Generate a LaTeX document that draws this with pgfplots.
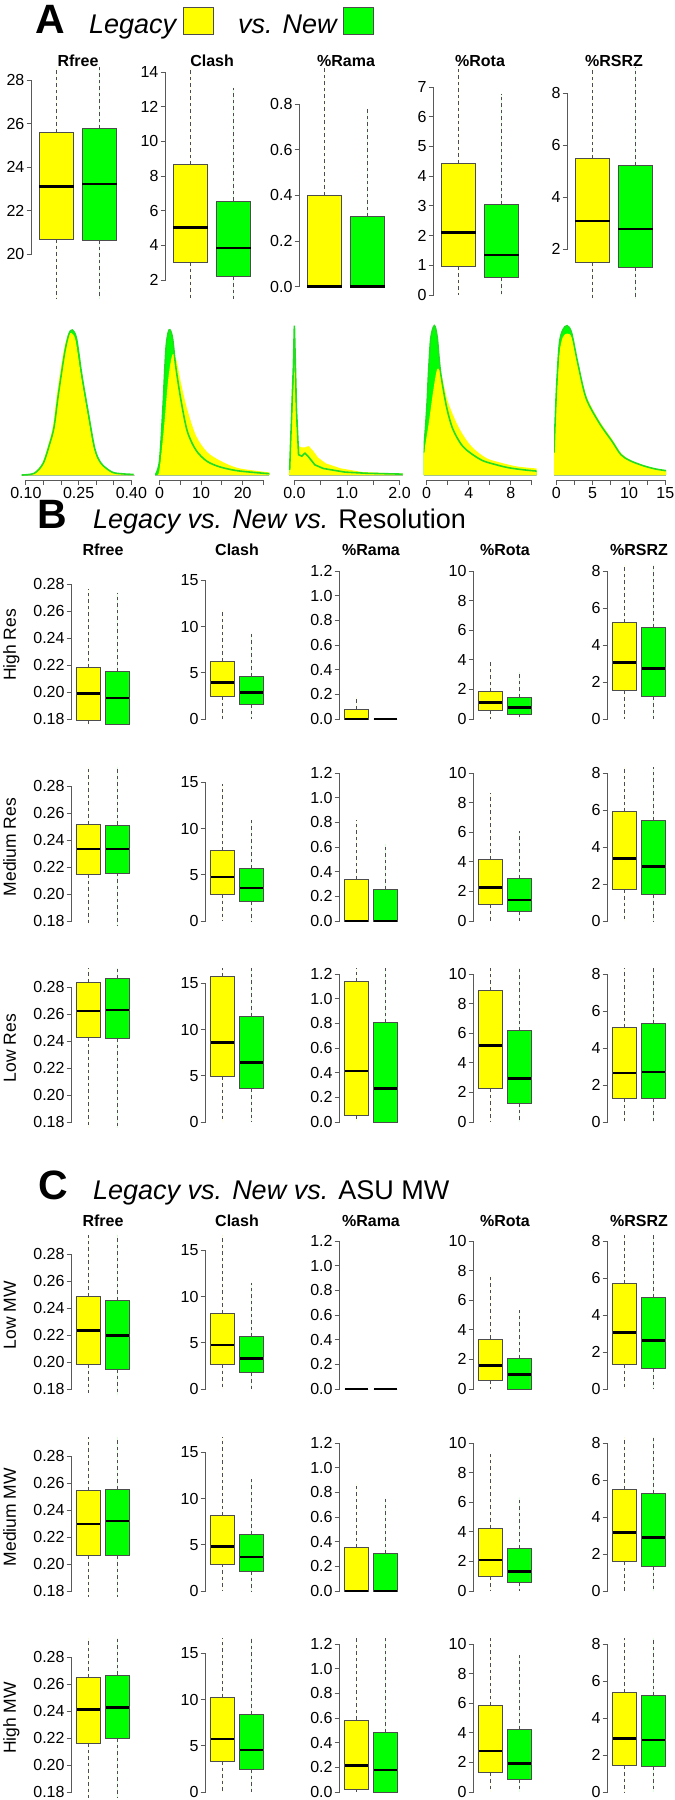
\documentclass[border=0pt]{standalone}
\usepackage{fontspec}
\setmainfont{Liberation Sans}
\usepackage{pgfplots}
\pgfplotsset{compat=1.18}
\usepgfplotslibrary{statistics}

\definecolor{yel}{HTML}{FFFF00}
\definecolor{grn}{HTML}{00FF00}
\definecolor{grnline}{HTML}{22DD22}
\definecolor{bord}{HTML}{4D4D4D}
\definecolor{axcol}{HTML}{595959}

\newcommand{\tickfont}{\fontsize{16}{18}\selectfont}
\newcommand{\titfont}{\fontsize{16}{18}\selectfont\bfseries}

\pgfplotsset{
  bpbase/.style={scale only axis, anchor=south west,
    xmin=0.42, xmax=2.58, xtick=\empty, clip mode=individual,
    axis line style={draw=none}, ytick pos=left, tick align=outside,
    major tick length=5pt, tick style={draw=axcol, line width=0.8pt},
    yticklabel style={font=\tickfont, inner sep=2pt},
    boxplot/draw direction=y,
    boxplot/whisker extend=0,
    boxplot/every whisker/.style={draw=bord, line width=0.8pt, dash pattern=on 3.5pt off 3pt},
    boxplot/every median/.style={draw=black, line width=2.6pt},
    boxplot/every box/.style={draw=bord, line width=0.9pt}},
  szA/.style={width=92.9pt, height=231pt},
  szB/.style={width=62.6pt, height=159.8pt},
  bxY/.style args={#1/#2/#3/#4/#5}{fill=yel, draw=bord,
    boxplot prepared={draw position=1, lower whisker=#1, lower quartile=#2,
      median=#3, upper quartile=#4, upper whisker=#5}},
  bxG/.style args={#1/#2/#3/#4/#5}{fill=grn, draw=bord,
    boxplot prepared={draw position=2, lower whisker=#1, lower quartile=#2,
      median=#3, upper quartile=#4, upper whisker=#5}},
  % panel A scales
  aRfree/.style={ymin=17.977, ymax=28.598, ytick={20,22,24,26,28}, yticklabels={20,22,24,26,28}},
  aClash/.style={ymin=0.9615, ymax=14.288, ytick={2,4,6,8,10,12,14}, yticklabels={2,4,6,8,10,12,14}},
  aRama/.style={ymin=-0.05, ymax=0.9637, ytick={0,0.2,0.4,0.6,0.8}, yticklabels={0.0,0.2,0.4,0.6,0.8}},
  aRota/.style={ymin=-0.101, ymax=7.673, ytick={0,1,2,3,4,5,6,7}, yticklabels={0,1,2,3,4,5,6,7}},
  aRSRZ/.style={ymin=0.1154, ymax=9.0, ytick={2,4,6,8}, yticklabels={2,4,6,8}},
  % panels B and C scales
  mRfree/.style={ymin=0.1756, ymax=0.2944, ytick={0.18,0.20,0.22,0.24,0.26,0.28}, yticklabels={0.18,0.20,0.22,0.24,0.26,0.28}},
  mClash/.style={ymin=-0.64, ymax=16.64, ytick={0,5,10,15}, yticklabels={0,5,10,15}},
  mRama/.style={ymin=-0.048, ymax=1.248, ytick={0,0.2,0.4,0.6,0.8,1.0,1.2}, yticklabels={0.0,0.2,0.4,0.6,0.8,1.0,1.2}},
  mRota/.style={ymin=-0.4, ymax=10.4, ytick={0,2,4,6,8,10}, yticklabels={0,2,4,6,8,10}},
  mRSRZ/.style={ymin=-0.32, ymax=8.32, ytick={0,2,4,6,8}, yticklabels={0,2,4,6,8}},
  dens/.style={scale only axis, anchor=south west, height=160pt,
    ymin=-0.0345, ymax=1.069, ytick=\empty,
    axis line style={draw=none}, xtick pos=bottom, tick align=outside,
    major tick length=5pt, tick style={draw=axcol, line width=0.8pt},
    xticklabel style={font=\tickfont, inner sep=2pt}},
  dfillG/.style={fill=grn, draw=none},
  dfillY/.style={fill=yel, draw=none},
  dline/.style={draw=grnline, line width=1.6pt},
}

% left, bottom, size, scale, axis line from, axis line to, legacy stats, new stats
\newcommand{\bp}[8]{%
\begin{axis}[bpbase,#3,#4,at={(#1pt,-#2pt)}]
\draw[axcol,line width=0.8pt] (axis cs:0.42,#5) -- (axis cs:0.42,#6);
\addplot[bxY=#7] coordinates {};
\addplot[bxG=#8] coordinates {};
\end{axis}}

\begin{document}
\begin{tikzpicture}
\useasboundingbox (0,0) rectangle (675pt,-1800pt);

% ---------- headers ----------
\node[anchor=base west, inner sep=0, font=\fontsize{41}{41}\selectfont\bfseries] at (35pt,-33pt) {A};
\node[anchor=base west, inner sep=0, font=\fontsize{27}{27}\selectfont\itshape] at (89pt,-33pt) {Legacy};
\draw[fill=yel, draw=bord, line width=0.8pt] (183pt,-7pt) rectangle (213pt,-34pt);
\node[anchor=base west, inner sep=0, font=\fontsize{27}{27}\selectfont\itshape] at (238pt,-33pt) {vs. New};
\draw[fill=grn, draw=bord, line width=0.8pt] (343pt,-7pt) rectangle (373pt,-34pt);

\node[anchor=base west, inner sep=0, font=\fontsize{41}{41}\selectfont\bfseries] at (37pt,-528pt) {B};
\node[anchor=base west, inner sep=0, font=\fontsize{27}{27}\selectfont] at (93pt,-528pt) {\textit{Legacy vs. New vs.} Resolution};
\node[anchor=base west, inner sep=0, font=\fontsize{41}{41}\selectfont\bfseries] at (38pt,-1199pt) {C};
\node[anchor=base west, inner sep=0, font=\fontsize{27}{27}\selectfont] at (93pt,-1199pt) {\textit{Legacy vs. New vs.} ASU MW};

% ---------- column titles ----------
\foreach \x/\t in {78.05/Rfree, 212.05/Clash, 346.05/\%Rama, 480.05/\%Rota, 614.05/\%RSRZ}
  \node[font=\titfont, inner sep=0] at (\x pt,-61pt) {\t};
\foreach \x/\t in {103/Rfree, 237/Clash, 371/\%Rama, 505/\%Rota, 639/\%RSRZ}{
  \node[font=\titfont, inner sep=0] at (\x pt,-550pt) {\t};
  \node[font=\titfont, inner sep=0] at (\x pt,-1221pt) {\t};
}

% ---------- row labels ----------
\foreach \y/\t in {645/High Res, 847/Medium Res, 1048/Low Res, 1315/Low MW, 1517/Medium MW, 1718/High MW}
  \node[rotate=90, anchor=base, inner sep=0, font=\fontsize{17.5}{18}\selectfont] at (16pt,-\y pt) {\t};

% ---------- panel A boxplots ----------
\bp{31.6}{298}{szA}{aRfree}{20}{28}{17/20.68/23.1/25.6/30}{17/20.64/23.22/25.75/30}
\bp{165.6}{298}{szA}{aClash}{2}{14}{0/3.03/5.02/8.66/20}{0/2.18/3.84/6.56/13.1}
\bp{299.6}{298}{szA}{aRama}{0}{0.8}{0/0/0/0.4/1.2}{0/0/0/0.307/0.78}
\bp{433.6}{298}{szA}{aRota}{0}{7}{0/0.95/2.1/4.44/9}{0/0.58/1.35/3.05/6.77}
\bp{567.6}{298}{szA}{aRSRZ}{2}{8}{0/1.5/3.08/5.5/10}{0/1.3/2.77/5.23/10}

% ---------- panel A densities ----------
\begin{axis}[dens, at={(21.5pt,-480pt)}, width=113pt, xmin=0.0875, xmax=0.4088,
  xtick={0.10,0.15,0.20,0.25,0.30,0.35,0.40}, xticklabels={0.10,,,0.25,,,0.40}]
\draw[axcol,line width=0.8pt] (axis cs:0.10,-0.0345) -- (axis cs:0.40,-0.0345);
\draw[gray!60, line width=0.6pt] (axis cs:0.0875,0) -- (axis cs:0.4088,0);
\addplot[dfillG, smooth, tension=0.5] coordinates {(0.088,0) (0.124,0.012) (0.149,0.08) (0.167,0.21) (0.180,0.33) (0.192,0.55) (0.210,0.84) (0.222,0.97) (0.232,1.0) (0.244,0.94) (0.259,0.69) (0.278,0.42) (0.296,0.18) (0.314,0.08) (0.345,0.02) (0.375,0.008) (0.406,0.004)} \closedcycle;
\addplot[dfillY, smooth, tension=0.5] coordinates {(0.088,0) (0.121,0.012) (0.146,0.08) (0.164,0.21) (0.177,0.34) (0.189,0.57) (0.207,0.85) (0.219,0.96) (0.229,0.98) (0.241,0.93) (0.256,0.70) (0.275,0.43) (0.293,0.19) (0.311,0.085) (0.342,0.022) (0.375,0.008) (0.406,0.004)} \closedcycle;
\addplot[dline, smooth, tension=0.5] coordinates {(0.088,0) (0.124,0.012) (0.149,0.08) (0.167,0.21) (0.180,0.33) (0.192,0.55) (0.210,0.84) (0.222,0.97) (0.232,1.0) (0.244,0.94) (0.259,0.69) (0.278,0.42) (0.296,0.18) (0.314,0.08) (0.345,0.02) (0.375,0.008) (0.406,0.004)};
\end{axis}

\begin{axis}[dens, at={(155pt,-480pt)}, width=114.4pt, xmin=-1.08, xmax=26.42,
  xtick={0,5,10,15,20,25}, xticklabels={0,,10,,20,}]
\draw[axcol,line width=0.8pt] (axis cs:0,-0.0345) -- (axis cs:25,-0.0345);
\draw[gray!60, line width=0.6pt] (axis cs:-1.08,0) -- (axis cs:26.42,0);
\addplot[dfillG, smooth, tension=0.5] coordinates {(-1.0,0) (0,0.095) (0.8,0.45) (1.55,0.87) (2.3,1.0) (3.1,0.95) (3.9,0.75) (5.2,0.51) (6.7,0.30) (8.8,0.17) (11.4,0.095) (14.5,0.056) (18.6,0.03) (23.8,0.015) (26.4,0.009)} \closedcycle;
\addplot[dfillY, smooth, tension=0.5] coordinates {(-0.5,0) (0,0.036) (1.0,0.30) (2.1,0.66) (3.1,0.83) (4.1,0.79) (5.2,0.63) (6.7,0.45) (8.8,0.27) (11.4,0.16) (14.5,0.10) (18.6,0.05) (23.8,0.027) (26.4,0.018)} \closedcycle;
\addplot[dline, smooth, tension=0.5] coordinates {(-1.0,0) (0,0.095) (0.8,0.45) (1.55,0.87) (2.3,1.0) (3.1,0.95) (3.9,0.75) (5.2,0.51) (6.7,0.30) (8.8,0.17) (11.4,0.095) (14.5,0.056) (18.6,0.03) (23.8,0.015) (26.4,0.009)};
\end{axis}

\begin{axis}[dens, at={(288.8pt,-480pt)}, width=114.2pt, xmin=-0.106, xmax=2.065,
  xtick={0,0.5,1,1.5,2}, xticklabels={0.0,,1.0,,2.0}]
\draw[axcol,line width=0.8pt] (axis cs:0,-0.0345) -- (axis cs:2,-0.0345);
\draw[gray!60, line width=0.6pt] (axis cs:-0.106,0) -- (axis cs:2.065,0);
\addplot[dfillG] coordinates {(-0.106,0) (-0.09,0.036) (-0.02,0.74) (0.0,1.03) (0.04,0.45) (0.08,0.14) (0.14,0.13) (0.2,0.15) (0.27,0.125) (0.39,0.07) (0.55,0.045) (0.96,0.02) (1.37,0.012) (2.06,0.006)} \closedcycle;
\addplot[dfillY] coordinates {(-0.106,0) (-0.09,0.03) (-0.02,0.6) (0.0,0.78) (0.04,0.35) (0.08,0.2) (0.14,0.19) (0.2,0.19) (0.27,0.2) (0.35,0.17) (0.45,0.12) (0.6,0.08) (0.88,0.046) (1.3,0.02) (2.06,0.009)} \closedcycle;
\addplot[dline] coordinates {(-0.09,0.036) (-0.02,0.74) (0.0,1.03) (0.04,0.45) (0.08,0.14) (0.14,0.13) (0.2,0.15) (0.27,0.125) (0.39,0.07) (0.55,0.045) (0.96,0.02) (1.37,0.012) (2.06,0.006)};
\end{axis}

\begin{axis}[dens, at={(423.7pt,-480pt)}, width=112.9pt, xmin=-0.285, xmax=10.46,
  xtick={0,2,4,6,8,10}, xticklabels={0,,4,,8,}]
\draw[axcol,line width=0.8pt] (axis cs:0,-0.0345) -- (axis cs:10,-0.0345);
\draw[gray!60, line width=0.6pt] (axis cs:-0.285,0) -- (axis cs:10.46,0);
\addplot[dfillG, smooth, tension=0.5] coordinates {(-0.29,0.154) (0,0.45) (0.2,0.74) (0.4,0.95) (0.73,1.03) (1.0,0.95) (1.3,0.72) (1.86,0.48) (2.47,0.32) (3.3,0.21) (4.1,0.155) (5.3,0.10) (6.6,0.071) (7.8,0.05) (9.2,0.036) (10.46,0.027)} \closedcycle;
\addplot[dfillY, smooth, tension=0.5] coordinates {(-0.29,0.14) (0.2,0.36) (0.6,0.57) (1.0,0.73) (1.4,0.69) (2.0,0.51) (2.9,0.35) (3.7,0.25) (4.5,0.18) (5.7,0.116) (7.0,0.086) (8.6,0.059) (10.46,0.045)} \closedcycle;
\addplot[dline, smooth, tension=0.5] coordinates {(-0.29,0.154) (0,0.45) (0.2,0.74) (0.4,0.95) (0.73,1.03) (1.0,0.95) (1.3,0.72) (1.86,0.48) (2.47,0.32) (3.3,0.21) (4.1,0.155) (5.3,0.10) (6.6,0.071) (7.8,0.05) (9.2,0.036) (10.46,0.027)};
\end{axis}

\begin{axis}[dens, at={(554pt,-480pt)}, width=112pt, xmin=-0.32, xmax=15.09,
  xtick={0,2.5,5,7.5,10,12.5,15}, xticklabels={0,,5,,10,,15}]
\draw[axcol,line width=0.8pt] (axis cs:0,-0.0345) -- (axis cs:15,-0.0345);
\draw[gray!60, line width=0.6pt] (axis cs:-0.32,0) -- (axis cs:15.09,0);
\addplot[dfillG, smooth, tension=0.5] coordinates {(-0.32,0.154) (0,0.57) (0.41,0.90) (0.89,1.0) (1.48,1.03) (2.1,0.98) (2.96,0.77) (4.1,0.53) (5.9,0.36) (7.7,0.23) (8.9,0.14) (10.1,0.10) (11.9,0.065) (13.6,0.042) (15.09,0.03)} \closedcycle;
\addplot[dfillY, smooth, tension=0.5] coordinates {(-0.32,0.14) (0,0.5) (0.41,0.83) (0.89,0.95) (1.48,0.975) (2.1,0.95) (2.96,0.78) (4.1,0.55) (5.9,0.375) (7.7,0.245) (8.9,0.15) (10.1,0.105) (11.9,0.068) (13.6,0.045) (15.09,0.032)} \closedcycle;
\addplot[dline, smooth, tension=0.5] coordinates {(-0.32,0.154) (0,0.57) (0.41,0.90) (0.89,1.0) (1.48,1.03) (2.1,0.98) (2.96,0.77) (4.1,0.53) (5.9,0.36) (7.7,0.23) (8.9,0.14) (10.1,0.10) (11.9,0.065) (13.6,0.042) (15.09,0.03)};
\end{axis}

% ---------- panel B: High Res ----------
\bp{71.7}{724.9}{szB}{mRfree}{0.18}{0.28}{0.17/0.179/0.1988/0.218/0.277}{0.17/0.1762/0.1955/0.2151/0.274}
\bp{205.7}{724.9}{szB}{mClash}{0}{15}{0/2.48/3.96/6.26/11.83}{0/1.58/2.88/4.64/9.24}
\bp{339.7}{724.9}{szB}{mRama}{0}{1.2}{0/0/0/0.079/0.18}{0/0/0/0/0}
\bp{473.7}{724.9}{szB}{mRota}{0}{10}{0/0.56/1.13/1.84/3.87}{0/0.34/0.79/1.47/3.16}
\bp{607.7}{724.9}{szB}{mRSRZ}{0}{8}{0/1.53/3.04/5.2/11}{0/1.2/2.74/4.93/11}
% ---------- panel B: Medium Res ----------
\bp{71.7}{926.9}{szB}{mRfree}{0.18}{0.28}{0.178/0.2147/0.2334/0.2521/0.31}{0.176/0.2157/0.2334/0.2514/0.31}
\bp{205.7}{926.9}{szB}{mClash}{0}{15}{0/2.9/4.76/7.59/14.8}{0/2.15/3.58/5.66/10.9}
\bp{339.7}{926.9}{szB}{mRama}{0}{1.2}{0/0/0/0.338/0.82}{0/0/0/0.258/0.626}
\bp{473.7}{926.9}{szB}{mRota}{0}{10}{0/1.14/2.28/4.16/8.68}{0/0.67/1.41/2.86/6.1}
\bp{607.7}{926.9}{szB}{mRSRZ}{0}{8}{0/1.7/3.39/5.91/11}{0/1.41/2.96/5.43/11}
% ---------- panel B: Low Res ----------
\bp{71.7}{1127.9}{szB}{mRfree}{0.18}{0.28}{0.17/0.243/0.2625/0.2839/0.32}{0.17/0.2422/0.2633/0.2866/0.32}
\bp{205.7}{1127.9}{szB}{mClash}{0}{15}{0/4.9/8.57/15.7/30}{0/3.6/6.41/11.46/22}
\bp{339.7}{1127.9}{szB}{mRama}{0}{1.2}{0/0.051/0.414/1.138/2}{0/0/0.273/0.805/1.6}
\bp{473.7}{1127.9}{szB}{mRota}{0}{10}{0/2.28/5.16/8.92/17}{0/1.26/2.95/6.17/13}
\bp{607.7}{1127.9}{szB}{mRSRZ}{0}{8}{0/1.28/2.66/5.1/10}{0/1.28/2.7/5.31/10}

% ---------- panel C: Low MW ----------
\bp{71.7}{1394.9}{szB}{mRfree}{0.18}{0.28}{0.177/0.1984/0.2233/0.2489/0.31}{0.1755/0.1947/0.2198/0.2459/0.31}
\bp{205.7}{1394.9}{szB}{mClash}{0}{15}{0/2.7/4.75/8.17/17}{0/1.76/3.31/5.64/11.5}
\bp{339.7}{1394.9}{szB}{mRama}{0}{1.2}{0/0/0/0/0}{0/0/0/0/0}
\bp{473.7}{1394.9}{szB}{mRota}{0}{10}{0/0.56/1.6/3.38/7.64}{0/0/0.97/2.09/5.34}
\bp{607.7}{1394.9}{szB}{mRSRZ}{0}{8}{0/1.33/3.06/5.68/11}{0/1.1/2.63/4.97/11}
% ---------- panel C: Medium MW ----------
\bp{71.7}{1596.9}{szB}{mRfree}{0.18}{0.28}{0.17/0.2062/0.2298/0.2546/0.31}{0.17/0.2062/0.232/0.2558/0.31}
\bp{205.7}{1596.9}{szB}{mClash}{0}{15}{0/2.92/4.79/8.14/17}{0/2.16/3.68/6.13/12.1}
\bp{339.7}{1596.9}{szB}{mRama}{0}{1.2}{0/0/0/0.351/0.873}{0/0/0/0.303/0.75}
\bp{473.7}{1596.9}{szB}{mRota}{0}{10}{0/0.97/2.09/4.24/9.26}{0/0.56/1.31/2.86/6.33}
\bp{607.7}{1596.9}{szB}{mRSRZ}{0}{8}{0/1.6/3.15/5.5/11}{0/1.34/2.88/5.28/11}
% ---------- panel C: High MW ----------
\bp{71.7}{1797.9}{szB}{mRfree}{0.18}{0.28}{0.17/0.2162/0.2415/0.2653/0.31}{0.17/0.2199/0.2427/0.267/0.31}
\bp{205.7}{1797.9}{szB}{mClash}{0}{15}{0/3.35/5.73/10.24/20}{0/2.45/4.54/8.43/17}
\bp{339.7}{1797.9}{szB}{mRama}{0}{1.2}{0/0.024/0.213/0.584/1.4}{0/0/0.178/0.484/1.3}
\bp{473.7}{1797.9}{szB}{mRota}{0}{10}{0/1.3/2.77/5.83/12}{0/0.86/1.94/4.24/9.26}
\bp{607.7}{1797.9}{szB}{mRSRZ}{0}{8}{0/1.42/2.9/5.39/11}{0/1.39/2.81/5.2/11}

\end{tikzpicture}
\end{document}
